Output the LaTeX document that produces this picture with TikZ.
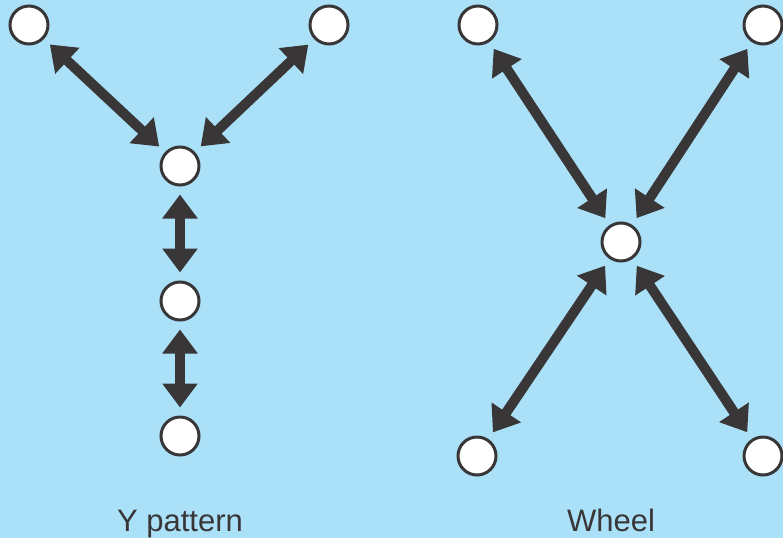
\documentclass[tikz,border=0pt]{standalone}
\usepackage{fontspec}
\setmainfont{Liberation Sans}
\usetikzlibrary{arrows.meta}
\definecolor{skyblue}{RGB}{170,224,248}
\definecolor{darkarrow}{RGB}{57,54,55}
\begin{document}
\begin{tikzpicture}[x=1pt, y=-1pt,
		member/.style={circle, draw=darkarrow, line width=3pt, fill=white, minimum size=38pt, inner sep=0pt},
		link/.style={darkarrow, line width=10pt, {Triangle[length=24pt,width=34pt]}-{Triangle[length=24pt,width=34pt]}, shorten <=8pt, shorten >=8pt},
		caption/.style={anchor=base, text=darkarrow, font=\fontsize{31}{33}\selectfont}]
		\fill[skyblue] (0,0) rectangle (783,538);
		\useasboundingbox (0,0) rectangle (783,538);
		% Y pattern
		\node[member] (ytl) at (29,25) {};
		\node[member] (ytr) at (329,25) {};
		\node[member] (yc) at (180,166) {};
		\node[member] (ym) at (180,301) {};
		\node[member] (yb) at (180,436) {};
		\foreach \a/\b in {ytl/yc, ytr/yc, yc/ym, ym/yb} {
			\draw[link] (\a) -- (\b);
		}
		\node[caption] (ylabel) at (180,531) {Y pattern};
		% Wheel
		\node[member] (wc) at (621,242) {};
		\node[member] (wtl) at (478,25) {};
		\node[member] (wtr) at (763,25) {};
		\node[member] (wbl) at (477,456) {};
		\node[member] (wbr) at (763,456) {};
		\foreach \a in {wtl, wtr, wbl, wbr} {
			\draw[link] (\a) -- (wc);
		}
		\node[caption] (wlabel) at (611,531) {Wheel};
	\end{tikzpicture}
\end{document}
